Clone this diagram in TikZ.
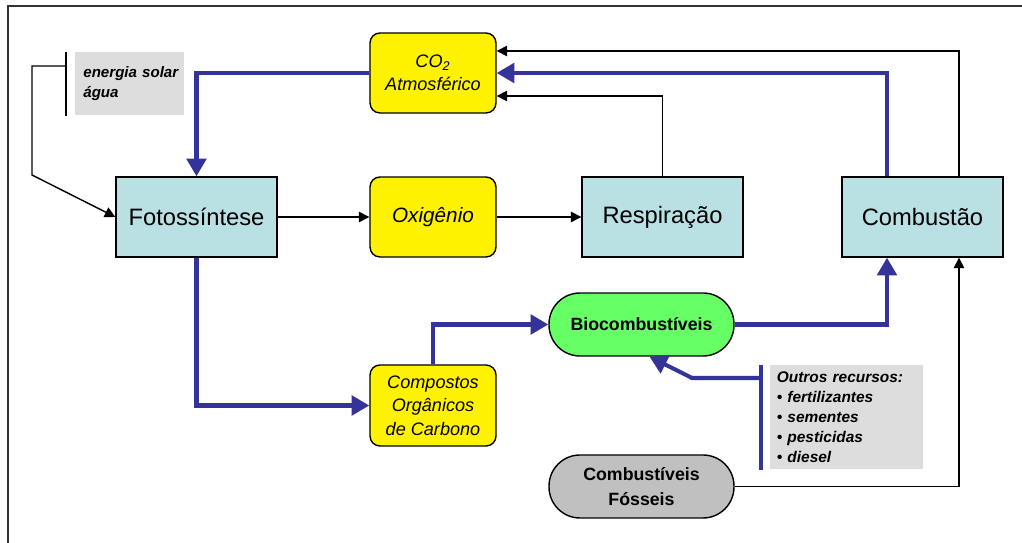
\documentclass[tikz,border=0pt]{standalone}
\usepackage{fontspec}
\setmainfont{Liberation Sans}
\usetikzlibrary{arrows.meta,positioning,calc}
\definecolor{cicloBlue}{RGB}{51,51,153}
\definecolor{procFill}{RGB}{185,224,227}
\definecolor{noteFill}{RGB}{221,221,221}
\definecolor{bioFill}{RGB}{102,255,102}
\definecolor{fossFill}{RGB}{192,192,192}

\begin{document}
\begin{tikzpicture}
  [x=0.02cm,y=-0.02cm,
   cicloNode/.style={draw,line width=0.8pt,align=center,inner sep=2pt},
   procN/.style={cicloNode,fill=procFill,minimum width=3.22cm,minimum height=1.6cm,
     font=\fontsize{13.5}{16}\selectfont},
   compN/.style={cicloNode,fill=yellow,rounded corners=0.2cm,minimum width=2.52cm,
     minimum height=1.6cm,font=\fontsize{10.3}{13.4}\selectfont\itshape},
   fuelN/.style={cicloNode,rounded corners=0.62cm,minimum width=3.7cm,minimum height=1.26cm,
     font=\fontsize{10.1}{14.2}\selectfont\bfseries},
   noteN/.style={fill=noteFill,align=left,inner xsep=0pt,inner ysep=0pt,anchor=north west},
   blk/.style={line width=0.8pt,-{Triangle[length=6pt,width=6pt]}},
   blu/.style={cicloBlue,line width=2.3pt,-{Triangle[length=10pt,width=11pt]}},
  ]

 % moldura
 \useasboundingbox (0,0) rectangle (1022,543);
 \draw[line width=0.8pt,black!80] (8,543) -- (8,6) -- (1022,6);

 % processos
 \node[procN] (foto) at (196.5,217) {Fotoss\'intese};
 \node[procN] (resp) at (662.5,217) {Respira\c{c}\~ao};
 \node[procN] (comb) at (922.5,217) {Combust\~ao};

 % compostos
 \node[compN] (co2) at (433,73) {CO\textsubscript{2}\\Atmosf\'erico};
 \node[compN] (oxi) at (433,217) {\fontsize{11.8}{14}\selectfont Oxig\^enio};
 \node[compN,minimum height=1.62cm] (comp) at (433,405.5)
   {Compostos\\Org\^anicos\\de Carbono};

 % combustiveis
 \node[fuelN,fill=bioFill] (bio) at (641.5,324.5) {Biocombust\'iveis};
 \node[fuelN,fill=fossFill] (foss) at (641.5,486.5) {Combust\'iveis\\F\'osseis};

 % notas
 \node[noteN,minimum width=2.18cm,minimum height=1.26cm,text width=2.14cm,
   font=\fontsize{8.6}{11.5}\selectfont\bfseries\itshape] (solar) at (75,52)
   {\hspace*{0.14cm}energia solar\\\hspace*{0.14cm}\'agua};
 \node[noteN,minimum width=3.06cm,minimum height=2.08cm,text width=3.04cm,
   font=\fontsize{8.8}{11.3}\selectfont\bfseries\itshape] (rec) at (770,365)
   {\hspace*{0.12cm}Outros recursos:\\
    \hspace*{0.12cm}\textbullet{} fertilizantes\\
    \hspace*{0.12cm}\textbullet{} sementes\\
    \hspace*{0.12cm}\textbullet{} pesticidas\\
    \hspace*{0.12cm}\textbullet{} diesel};
 \draw[line width=0.8pt] ([xshift=-0.18cm]solar.north west) -- ([xshift=-0.18cm]solar.south west);
 \draw[cicloBlue,line width=2.3pt] ([xshift=-0.18cm]rec.north west) -- ([xshift=-0.18cm]rec.south west);
 \coordinate (solarbar) at (66,66);
 \coordinate (recbar) at (761,378);

 % fluxos pretos
 \draw[blk] (solarbar) -- ++(-34,0) -- ++(0,109) -- (foto.west);
 \draw[blk] (foto) -- (oxi);
 \draw[blk] (oxi) -- (resp);
 \draw[blk] (resp.north) |- ([yshift=-0.46cm]co2.east);
 \draw[blk] ([xshift=0.73cm]comb.north) |- ([yshift=0.44cm]co2.east);
 \draw[blk] (foss.east) -| ([xshift=0.73cm]comb.south);

 % fluxos azuis
 \draw[blu] (co2.west) -| (foto.north);
 \draw[blu] ([xshift=-0.71cm]comb.north) |- (co2.east);
 \draw[blu] (foto.south) |- (comp.west);
 \draw[blu] (comp.north) |- (bio.west);
 \draw[blu] (bio.east) -| ([xshift=-0.71cm]comb.south);
 \draw[blu] (recbar) -- ++(-69,0) -- ([xshift=0.16cm]bio.south);
\end{tikzpicture}
\end{document}
